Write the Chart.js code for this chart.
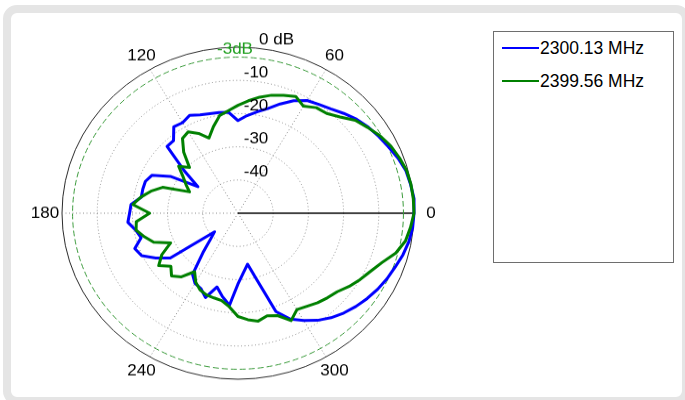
<!DOCTYPE html>
<html>
<head>
<meta charset="utf-8">
<script src="https://cdn.jsdelivr.net/npm/chart.js@4.4.1/dist/chart.umd.min.js"></script>
<style>
  html, body { margin: 0; padding: 0; width: 685px; height: 400px; overflow: hidden; background: #fff;
    font-family: 'Liberation Sans', Arial, sans-serif; }
  #frame { position: absolute; left: 3px; top: 5px; width: 687px; height: 400px; box-sizing: border-box;
    border: 8px solid #e5e5e5; border-radius: 14px; }
  #plot { position: absolute; left: 0; top: 0; width: 477px; height: 424px;
    transform: scaleY(0.9433); transform-origin: 0 0; }
  #legend { position: absolute; left: 493px; top: 31px; width: 181px; height: 232px; box-sizing: border-box;
    border: 1px solid #6e6e6e; background: #fff; }
  .item { position: absolute; left: 8px; height: 20px; line-height: 20px; font-size: 17.5px; color: #000; white-space: nowrap; }
  .swatch { display: inline-block; width: 37px; height: 2px; vertical-align: middle; margin-right: 1px; position: relative; top: -1px; }
</style>
</head>
<body>
<div id="frame"></div>
<div id="plot"><canvas id="c"></canvas></div>
<div id="legend"></div>
<script>
// angle of each sample, degrees, counter-clockwise from the right
const ANGLES = [0, 5, 10, 15, 20, 25, 30, 35, 40, 45, 50, 55,
  60, 65, 70, 75, 80, 85, 90, 95, 100, 105, 110, 115,
  120, 125, 130, 135, 140, 145, 150, 155, 160, 165, 170, 175,
  180, 185, 190, 195, 200, 205, 210, 215, 220, 225, 230, 235,
  240, 245, 250, 255, 260, 265, 270, 275, 280, 285, 290, 295,
  300, 305, 310, 315, 320, 325, 330, 335, 340, 345, 350, 355];

// normalized gain (dB)
const GAIN_2300 = [0, 0.2, -0.2, -0.6, -1.6, -2.8, -3.8, -4.8, -6.0, -7.5, -9.0, -10.0,
  -10.8, -12.6, -15.0, -17.4, -19.0, -20.5, -22.1, -19.5, -19.2, -19.0, -18.5, -17.5,
  -18.5, -18.2, -21.5, -21.5, -30.0, -36.1, -27.8, -23.0, -22.0, -22.0, -22.1, -19.5,
  -19.2, -18.6, -20.5, -21.5, -18.8, -19.8, -23.0, -26.5, -41.3, -39.0, -34.5, -27.5,
  -25.6, -25.0, -23.0, -27.0, -24.5, -22.2, -28.7, -32.1, -34.4, -29.2, -18.5, -14.8,
  -12.7, -10.6, -8.9, -7.5, -6.3, -5.2, -4.2, -3.3, -2.5, -1.5, -0.7, -0.2];

const GAIN_2399 = [0, 0, -0.1, -0.4, -1.2, -2.1, -3.4, -5.0, -6.5, -9.0, -10.8, -11.2,
  -12.8, -11.2, -12.2, -13.2, -14.5, -16.0, -17.5, -19.0, -20.1, -23.0, -25.9, -23.5,
  -21.7, -22.5, -26.0, -30.5, -28.0, -31.0, -33.0, -34.8, -27.2, -24.4, -22.0, -20.0,
  -24.9, -21.0, -20.6, -22.5, -24.5, -28.9, -25.0, -22.5, -25.1, -23.3, -25.0, -28.5,
  -26.0, -24.5, -23.8, -23.6, -23.3, -21.7, -18.9, -17.8, -17.0, -18.0, -17.2, -14.3,
  -16.5, -15.8, -14.8, -14.0, -13.2, -11.5, -10.0, -8.5, -6.5, -3.6, -1.7, -0.8];

const SERIES_NAMES = ['2300.13 MHz', '2399.56 MHz'];
const SERIES_COLORS = ['#0000ff', '#008000'];

const ANGLE_TICKS = [0, 60, 120, 180, 240, 300];
const DB_TICKS = [-10, -20, -30, -40];
const DB_MIN = -50;
const DB_MAX = 0;
const REF_DB = -3;

// radar runs clockwise, so feed it in reverse to get counter-clockwise angles
const n = ANGLES.length;
const order = ANGLES.map((_, i) => (n - i) % n);
const labels = order.map(k => ANGLES[k]);
const ccw = arr => order.map(k => arr[k]);

const polarDecor = {
  id: 'polarDecor',
  beforeDatasetsDraw(chart) {
    const r = chart.scales.r, ctx = chart.ctx;
    ctx.save();
    ctx.strokeStyle = '#3a9a3a';
    ctx.lineWidth = 1;
    ctx.setLineDash([6, 3]);
    ctx.beginPath();
    ctx.arc(r.xCenter, r.yCenter, r.getDistanceFromCenterForValue(REF_DB), 0, Math.PI * 2);
    ctx.stroke();
    ctx.restore();
  },
  afterDatasetsDraw(chart) {
    const r = chart.scales.r, ctx = chart.ctx;
    ctx.save();
    ctx.font = '17px "Liberation Sans", Arial, sans-serif';
    ctx.fillStyle = '#000';
    ctx.textAlign = 'center';
    ctx.textBaseline = 'middle';
    ANGLE_TICKS.forEach(a => {
      const p = r.getPointPosition(labels.indexOf(a), r.drawingArea + 17);
      ctx.fillText(String(a), p.x, p.y);
    });
    DB_TICKS.forEach(v => {
      ctx.fillText(String(v), r.xCenter + 18, r.yCenter - r.getDistanceFromCenterForValue(v) - 8);
    });
    ctx.textAlign = 'left';
    ctx.fillText(DB_MAX + ' dB', r.xCenter + 21, r.yCenter - r.drawingArea - 8);
    ctx.textAlign = 'center';
    ctx.fillStyle = '#1f9f1f';
    ctx.fillText(REF_DB + 'dB', r.xCenter - 3, r.yCenter - r.getDistanceFromCenterForValue(REF_DB) - 8);
    ctx.restore();
  }
};

const angleAt = c => labels[c.index];

new Chart(document.getElementById('c'), {
  type: 'radar',
  data: {
    labels: labels,
    datasets: [
      { label: SERIES_NAMES[0], data: ccw(GAIN_2300), borderColor: SERIES_COLORS[0], order: 2 },
      { label: SERIES_NAMES[1], data: ccw(GAIN_2399), borderColor: SERIES_COLORS[1], order: 1 }
    ]
  },
  options: {
    responsive: true,
    maintainAspectRatio: false,
    animation: false,
    layout: { padding: { left: 62, right: 62, top: 50, bottom: 21 } },
    elements: {
      point: { radius: 0, hoverRadius: 0 },
      line: { tension: 0, borderWidth: 3, borderJoinStyle: 'round', fill: false }
    },
    plugins: {
      legend: { display: false },
      tooltip: { enabled: false }
    },
    scales: {
      r: {
        min: DB_MIN,
        max: DB_MAX,
        startAngle: 90,
        ticks: { display: false, stepSize: 10 },
        pointLabels: { display: false },
        grid: {
          circular: true,
          color: c => c.tick.value === DB_MAX ? '#2a2a2a' : '#8a8a8a',
          lineWidth: c => c.tick.value === DB_MIN ? 0 : 1
        },
        border: { dash: c => (c.tick && c.tick.value === DB_MAX) ? [] : [1, 2.5] },
        angleLines: {
          color: c => angleAt(c) === 0 ? '#000' : '#8a8a8a',
          lineWidth: c => angleAt(c) === 0 ? 1.4 : (angleAt(c) % 60 === 0 ? 1 : 0),
          borderDash: c => angleAt(c) === 0 ? [] : [1, 2.5]
        }
      }
    }
  },
  plugins: [polarDecor]
});

// legend box
const legend = document.getElementById('legend');
SERIES_NAMES.forEach((name, i) => {
  const item = document.createElement('div');
  item.className = 'item';
  item.style.top = (6 + i * 33) + 'px';
  const sw = document.createElement('span');
  sw.className = 'swatch';
  sw.style.background = SERIES_COLORS[i];
  item.appendChild(sw);
  item.appendChild(document.createTextNode(name));
  legend.appendChild(item);
});
</script>
</body>
</html>
